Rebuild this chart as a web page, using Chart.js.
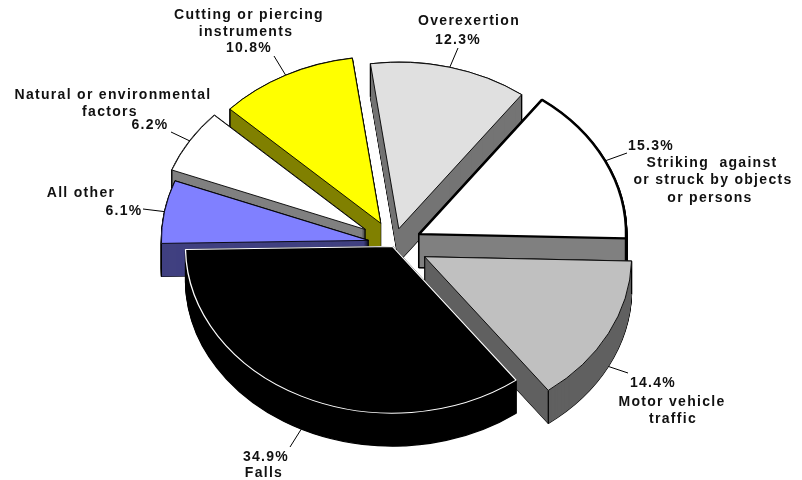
<!DOCTYPE html>
<html>

<head>
    <title>Injuries by cause</title>
    <meta charset="UTF-8">
    <script src="https://cdn.jsdelivr.net/npm/chart.js@4/dist/chart.umd.min.js"></script>
    <style>
        body { margin: 0; background: #fff; }
        canvas { display: block; }
    </style>
</head>

<body>
    <canvas id="injuryPie" width="802" height="480"></canvas>
    <script>
        const categories = [
            'Striking  against|or struck by objects|or persons',
            'Motor vehicle|traffic',
            'Falls',
            'All other',
            'Natural or environmental|factors',
            'Cutting or piercing|instruments',
            'Overexertion'
        ];
        const shares = [15.3, 14.4, 34.9, 6.1, 6.2, 10.8, 12.3];

        const topColors = ['#ffffff', '#c0c0c0', '#000000', '#8080ff', '#ffffff', '#ffff00', '#e0e0e0'];
        const wallColors = ['#808080', '#606060', '#000000', '#404080', '#808080', '#808000', '#747474'];
        const edgeColors = ['#000', '#000', '#fff', '#000', '#000', '#000', '#000'];
        const edgeWidths = [2.6, 1, 1.3, 1, 1, 1, 1];

        // how far each slice is pulled out of the pie, in px
        const explode = [28, 34.5, 3.5, 26, 34, 29, 19.5];
        const tilt = 0.805;
        const depth = 33;
        // walls first, from the back of the pie to the front
        const wallOrder = [5, 4, 6, 3, 0, 1, 2];

        // [x, y] of each text line centre, the share goes on its own line
        const nameSpots = [
            [[712, 163], [713, 180], [710, 198]],
            [[672, 402], [673, 419]],
            [[264, 473]],
            [[81, 193]],
            [[113, 95], [110, 112]],
            [[249, 15], [246, 32]],
            [[469, 21]]
        ];
        const shareSpots = [[651, 146], [653, 383], [266, 457], [124, 211], [150, 125], [249, 48], [458, 40]];
        const leaderEnds = [[627, 153], [628, 373], [290, 447], [143, 209], [171, 132], [274, 56], [458, 48]];

        function slicePos(arc, i) {
            const mid = (arc.startAngle + arc.endAngle) / 2;
            return {
                x: arc.x + Math.cos(mid) * explode[i],
                y: arc.y + Math.sin(mid) * explode[i] * tilt,
                r: arc.outerRadius
            };
        }

        function wedge(ctx, arc, p, dy) {
            ctx.beginPath();
            ctx.moveTo(p.x, p.y + dy);
            ctx.ellipse(p.x, p.y + dy, p.r, p.r * tilt, 0, arc.startAngle, arc.endAngle);
            ctx.closePath();
        }

        const tiltedPie = {
            id: 'tiltedPie',
            beforeDatasetDraw(chart) {
                const ctx = chart.ctx;
                const arcs = chart.getDatasetMeta(0).data;

                wallOrder.forEach((i) => {
                    const arc = arcs[i];
                    const p = slicePos(arc, i);
                    ctx.save();
                    ctx.lineJoin = 'round';
                    ctx.strokeStyle = '#000';
                    ctx.lineWidth = i === 0 ? 2.6 : 1.2;
                    for (let d = depth; d >= 0; d--) {
                        wedge(ctx, arc, p, d);
                        ctx.stroke();
                    }
                    ctx.fillStyle = wallColors[i];
                    for (let d = depth; d >= 0; d--) {
                        wedge(ctx, arc, p, d);
                        ctx.fill();
                    }
                    // corner edges of the wall
                    [arc.startAngle, arc.endAngle].forEach((a) => {
                        const ex = p.x + Math.cos(a) * p.r;
                        const ey = p.y + Math.sin(a) * p.r * tilt;
                        ctx.beginPath();
                        ctx.moveTo(ex, ey);
                        ctx.lineTo(ex, ey + depth);
                        ctx.stroke();
                    });
                    ctx.restore();
                });

                arcs.forEach((arc, i) => {
                    const p = slicePos(arc, i);
                    ctx.save();
                    ctx.translate(p.x, p.y);
                    ctx.scale(1, tilt);
                    ctx.translate(-arc.x, -arc.y);
                    arc.draw(ctx);
                    ctx.restore();
                });
                return false;
            },
            afterDraw(chart) {
                const ctx = chart.ctx;
                const arcs = chart.getDatasetMeta(0).data;
                ctx.save();
                ctx.font = 'bold 14px "Liberation Sans"';
                ctx.letterSpacing = '1.3px';
                ctx.textAlign = 'center';
                ctx.textBaseline = 'middle';
                ctx.fillStyle = '#111';
                ctx.strokeStyle = '#000';
                ctx.lineWidth = 1;

                arcs.forEach((arc, i) => {
                    const p = slicePos(arc, i);
                    const mid = (arc.startAngle + arc.endAngle) / 2;
                    const drop = Math.sin(mid) > 0 ? depth : 0;
                    ctx.beginPath();
                    ctx.moveTo(p.x + Math.cos(mid) * p.r, p.y + Math.sin(mid) * p.r * tilt + drop);
                    ctx.lineTo(leaderEnds[i][0], leaderEnds[i][1]);
                    ctx.stroke();

                    categories[i].split('|').forEach((line, n) => {
                        ctx.fillText(line, nameSpots[i][n][0], nameSpots[i][n][1]);
                    });
                    ctx.fillText(shares[i].toFixed(1) + '%', shareSpots[i][0], shareSpots[i][1]);
                });
                ctx.restore();
            }
        };

        new Chart(document.getElementById('injuryPie'), {
            type: 'pie',
            data: {
                labels: categories.map((c) => c.replace(/\|/g, ' ')),
                datasets: [{
                    data: shares,
                    backgroundColor: topColors,
                    borderColor: edgeColors,
                    borderWidth: edgeWidths
                }]
            },
            options: {
                responsive: false,
                animation: false,
                rotation: 36.4,
                radius: 207,
                layout: { padding: { top: 8, right: 14 } },
                plugins: { legend: { display: false }, tooltip: { enabled: false } }
            },
            plugins: [tiltedPie]
        });
    </script>

</body>

</html>
